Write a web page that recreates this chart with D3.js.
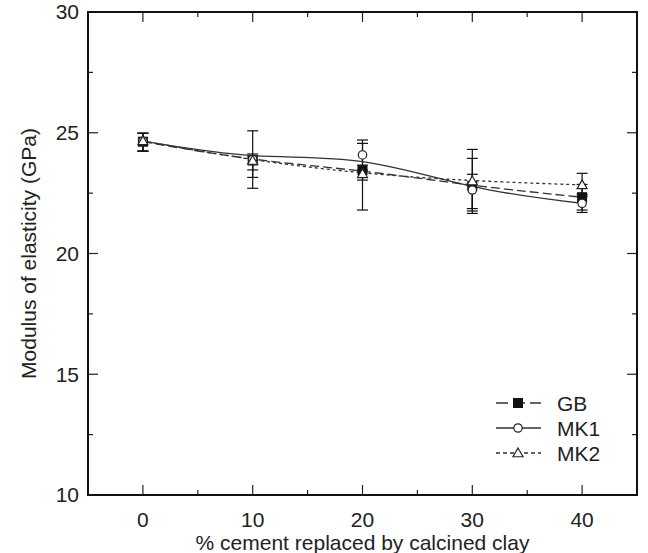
<!DOCTYPE html>
<html>
<head>
<meta charset="utf-8">
<script src="https://cdn.jsdelivr.net/npm/d3@7"></script>
<style>
  body { margin: 0; background: #fff; }
  text { font-family: "Liberation Sans", Arial, sans-serif; fill: #222; }
</style>
</head>
<body>
<div id="viz"></div>
<script>
const width = 648;
const height = 553;
const margin = {top: 12, right: 11, bottom: 58, left: 88};
const fontSize = 21;

// data
const xValues = [0, 10, 20, 30, 40];
const gb = [24.63, 23.85, 23.45, 22.80, 22.33];
const gbLow = [24.24, 23.46, 21.80, 21.76, 21.80];
const gbHigh = [24.98, 24.12, 24.56, 23.94, 22.86];
const mk1 = [24.65, 23.90, 24.08, 22.63, 22.08];
const mk1Low = [24.24, 22.70, 23.46, 21.86, 21.70];
const mk1High = [24.98, 25.08, 24.70, 23.28, 22.45];
const mk2 = [24.66, 23.85, 23.30, 23.00, 22.84];
const mk2Low = [24.24, 23.15, 23.04, 21.66, 22.36];
const mk2High = [24.98, 24.04, 23.66, 24.31, 23.32];
const xTicks = [0, 10, 20, 30, 40];
const yTicks = [10, 15, 20, 25, 30];

const series = [
  {name: 'GB', values: gb, low: gbLow, high: gbHigh, dash: '9,4', legendDash: '12,5', marker: 'square'},
  {name: 'MK1', values: mk1, low: mk1Low, high: mk1High, dash: null, legendDash: null, marker: 'circle'},
  {name: 'MK2', values: mk2, low: mk2Low, high: mk2High, dash: '3,3', legendDash: '4,3', marker: 'triangle'}
];

const svg = d3.select('#viz')
  .append('svg')
    .attr('width', width)
    .attr('height', height);

const xScale = d3.scaleLinear()
  .domain([-5, 45])
  .range([margin.left, width - margin.right]);

const yScale = d3.scaleLinear()
  .domain([10, 30])
  .range([height - margin.bottom, margin.top]);

const x0 = margin.left, x1 = width - margin.right;
const y0 = height - margin.bottom, y1 = margin.top;

// ticks on all four sides, pointing inward
const drawXTicks = (g, vals, len) => {
  vals.forEach(v => {
    const x = xScale(v);
    g.append('line').attr('x1', x).attr('x2', x).attr('y1', y0).attr('y2', y0 - len);
    g.append('line').attr('x1', x).attr('x2', x).attr('y1', y1).attr('y2', y1 + len);
  });
};
const drawYTicks = (g, vals, len) => {
  vals.forEach(v => {
    const y = yScale(v);
    g.append('line').attr('x1', x0).attr('x2', x0 + len).attr('y1', y).attr('y2', y);
    g.append('line').attr('x1', x1).attr('x2', x1 - len).attr('y1', y).attr('y2', y);
  });
};

const ticks = svg.append('g').attr('stroke', '#222').attr('stroke-width', 1.2);
drawXTicks(ticks, xTicks, 10);
drawXTicks(ticks, d3.range(-5, 46, 10), 5);
drawYTicks(ticks, yTicks, 10);
drawYTicks(ticks, d3.range(12.5, 30, 5), 5);

svg.append('rect')
  .attr('x', x0)
  .attr('y', y1)
  .attr('width', x1 - x0)
  .attr('height', y0 - y1)
  .attr('fill', 'none')
  .attr('stroke', '#111')
  .attr('stroke-width', 2);

// tick labels
svg.append('g').selectAll('text').data(xTicks).join('text')
  .attr('x', d => xScale(d))
  .attr('y', y0 + 32)
  .attr('text-anchor', 'middle')
  .attr('font-size', fontSize)
  .text(d => d);

svg.append('g').selectAll('text').data(yTicks).join('text')
  .attr('x', x0 - 9)
  .attr('y', d => yScale(d))
  .attr('dy', '0.35em')
  .attr('text-anchor', 'end')
  .attr('font-size', fontSize)
  .text(d => d);

svg.append('text')
  .attr('x', (x0 + x1) / 2)
  .attr('y', height - 3)
  .attr('text-anchor', 'middle')
  .attr('font-size', fontSize)
  .text('% cement replaced by calcined clay');

svg.append('text')
  .attr('transform', `translate(36, ${(y0 + y1) / 2}) rotate(-90)`)
  .attr('text-anchor', 'middle')
  .attr('font-size', fontSize)
  .text('Modulus of elasticity (GPa)');

const lineGen = d3.line()
  .x((d, i) => xScale(xValues[i]))
  .y(d => yScale(d))
  .curve(d3.curveBasis);

const drawMarker = (g, type, x, y) => {
  if (type === 'square') {
    g.append('rect').attr('x', x - 4.5).attr('y', y - 4.5).attr('width', 9).attr('height', 9)
      .attr('fill', '#111').attr('stroke', '#111');
  } else if (type === 'circle') {
    g.append('circle').attr('cx', x).attr('cy', y).attr('r', 4.2)
      .attr('fill', '#fff').attr('stroke', '#222').attr('stroke-width', 1.2);
  } else {
    const s = 5;
    g.append('path')
      .attr('d', `M${x},${y - s}L${x + s},${y + s * 0.75}L${x - s},${y + s * 0.75}Z`)
      .attr('fill', '#fff').attr('stroke', '#222').attr('stroke-width', 1.2);
  }
};

// error bars
const capW = 5.5;
series.forEach(s => {
  const eg = svg.append('g').attr('stroke', '#111').attr('stroke-width', 1.2);
  xValues.forEach((xv, i) => {
    const x = xScale(xv);
    eg.append('line').attr('x1', x).attr('x2', x).attr('y1', yScale(s.low[i])).attr('y2', yScale(s.high[i]));
    eg.append('line').attr('x1', x - capW).attr('x2', x + capW).attr('y1', yScale(s.low[i])).attr('y2', yScale(s.low[i]));
    eg.append('line').attr('x1', x - capW).attr('x2', x + capW).attr('y1', yScale(s.high[i])).attr('y2', yScale(s.high[i]));
  });
});

// lines
series.forEach(s => {
  svg.append('path')
    .attr('d', lineGen(s.values))
    .attr('fill', 'none')
    .attr('stroke', '#333')
    .attr('stroke-width', 1.3)
    .attr('stroke-dasharray', s.dash);
});

// markers
series.forEach(s => {
  const mg = svg.append('g');
  s.values.forEach((v, i) => drawMarker(mg, s.marker, xScale(xValues[i]), yScale(v)));
});

// legend
const legend = svg.append('g');
series.forEach((s, i) => {
  const ly = 403 + i * 25;
  legend.append('line')
    .attr('x1', 496).attr('x2', 541).attr('y1', ly).attr('y2', ly)
    .attr('stroke', '#333').attr('stroke-width', 1.3)
    .attr('stroke-dasharray', s.legendDash);
  drawMarker(legend, s.marker, 518, ly);
  legend.append('text')
    .attr('x', 557).attr('y', ly).attr('dy', '0.36em')
    .attr('font-size', fontSize)
    .text(s.name);
});
</script>
</body>
</html>
